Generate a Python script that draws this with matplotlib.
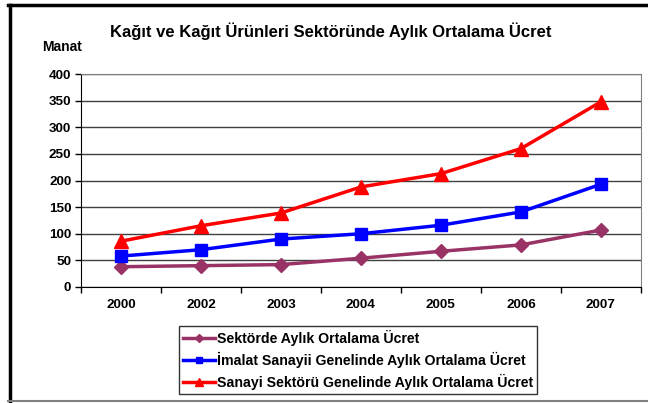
import matplotlib.pyplot as plt
from matplotlib.lines import Line2D
import numpy as np

plt.rcParams["font.family"] = ["Liberation Sans", "DejaVu Sans"]
plt.rcParams["font.weight"] = "bold"

years = ["2000", "2002", "2003", "2004", "2005", "2006", "2007"]
sektorde = [38, 40, 42, 54, 67, 79, 107]
imalat = [58, 70, 90, 100, 116, 141, 193]
sanayi = [86, 115, 139, 188, 213, 260, 348]

labels = [
    "Sektörde Aylık Ortalama Ücret",
    "İmalat Sanayii Genelinde Aylık Ortalama Ücret",
    "Sanayi Sektörü Genelinde Aylık Ortalama Ücret",
]

fig = plt.figure(figsize=(6.48, 4.03), dpi=100)
ax = fig.add_axes([0.125, 0.288, 0.864, 0.528])

x = np.arange(len(years))
ax.plot(x, sektorde, color="#993366", marker="D", markersize=7, lw=2.5, label=labels[0])
ax.plot(x, imalat, color="#0000FF", marker="s", markersize=8.5, lw=2.5, label=labels[1])
ax.plot(x, sanayi, color="#FF0000", marker="^", markersize=9.5, lw=2.5, label=labels[2])

ax.set_xlim(-0.5, len(years) - 0.5)
ax.set_ylim(0, 400)
ax.set_yticks(range(0, 401, 50))
ax.set_xticks(x)
ax.set_xticklabels(years)
ax.set_xticks(np.arange(-0.5, len(years), 1), minor=True)
ax.tick_params(axis="x", which="major", length=0, pad=9, labelsize=9.7)
ax.tick_params(axis="x", which="minor", length=4, direction="out", width=1)
ax.tick_params(axis="y", length=4, direction="out", width=1, labelsize=9.7, pad=3)
for lab in ax.get_xticklabels() + ax.get_yticklabels():
    lab.set_fontweight("bold")

ax.grid(axis="y", color="#404040", lw=1)
ax.set_axisbelow(True)
ax.spines["top"].set_color("#808080")
ax.spines["right"].set_color("#808080")
ax.spines["left"].set_color("black")
ax.spines["bottom"].set_color("black")

fig.text(0.510, 0.923, "Kağıt ve Kağıt Ürünleri Sektöründe Aylık Ortalama Ücret",
         ha="center", va="center", fontsize=12, fontweight="bold")
fig.text(0.065, 0.883, "Manat", ha="left", va="center", fontsize=10, fontweight="bold")

leg = fig.legend(loc="upper left", bbox_to_anchor=(0.276, 0.191), frameon=True,
                 fancybox=False, edgecolor="black", markerscale=0.55,
                 prop={"weight": "bold", "size": 10.2}, handlelength=2.25,
                 handletextpad=0.15, borderpad=0.3, labelspacing=0.4,
                 borderaxespad=0)
leg.get_frame().set_linewidth(1)

# outer chart border
fig.add_artist(Line2D([9.5 / 648, 9.5 / 648], [2 / 403, 398 / 403], color="black", lw=2.5))
fig.add_artist(Line2D([8 / 648, 1.0], [398 / 403, 398 / 403], color="black", lw=2.5))
fig.add_artist(Line2D([8 / 648, 1.0], [2 / 403, 2 / 403], color="#808080", lw=1.5))

fig.savefig("out.png", dpi=100)
